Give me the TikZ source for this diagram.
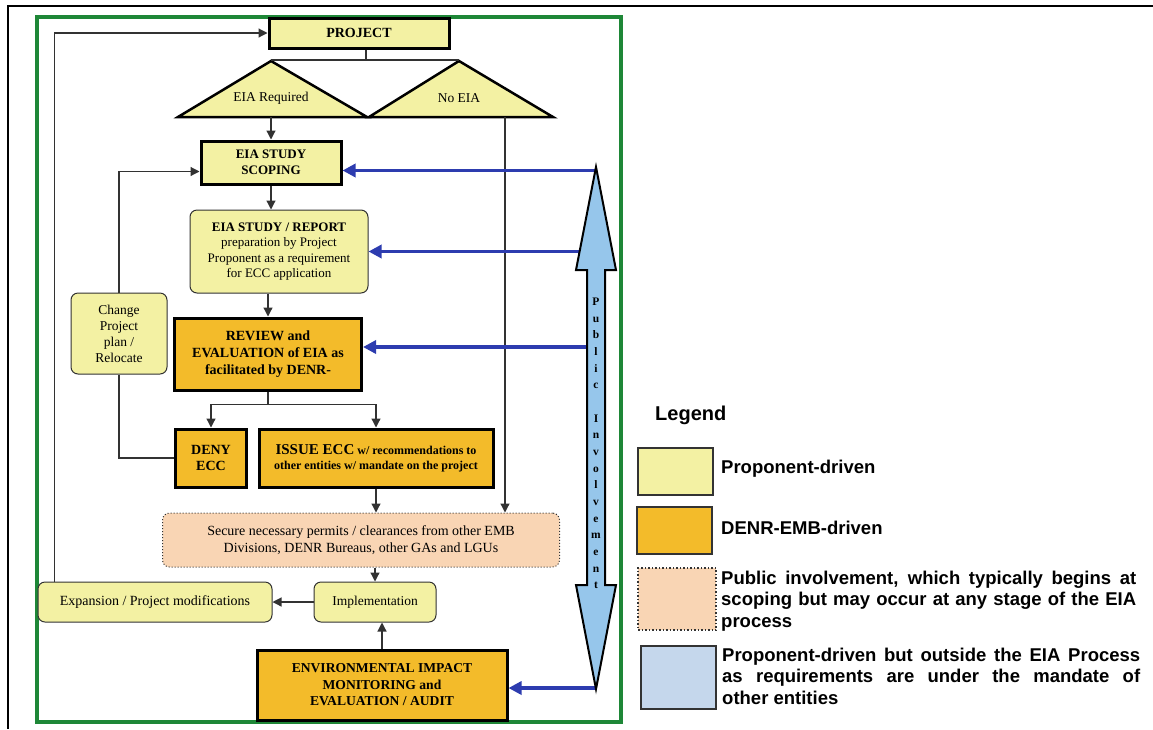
\documentclass[tikz,border=0pt]{standalone}
\usepackage{fontspec}
\setmainfont{Liberation Serif}
\newfontfamily\legendfont{Liberation Sans}
\usetikzlibrary{arrows.meta}
\definecolor{propyellow}{RGB}{243,241,163}
\definecolor{denrorange}{RGB}{243,187,42}
\definecolor{permitpeach}{RGB}{249,213,180}
\definecolor{outsideblue}{RGB}{197,215,236}
\definecolor{pifill}{RGB}{150,198,235}
\definecolor{pubblue}{RGB}{45,60,175}
\definecolor{framegreen}{RGB}{30,135,55}
\definecolor{linegray}{RGB}{50,50,50}
\tikzset{
  propbox/.style={draw=linegray, line width=1, fill=propyellow, rounded corners=7, align=center, inner sep=0},
  thickbox/.style={draw=black, line width=3, fill=propyellow, align=center, inner sep=0},
  denrbox/.style={thickbox, fill=denrorange},
  permitbox/.style={draw=linegray, dotted, line width=1, fill=permitpeach, rounded corners=7, align=center, inner sep=0},
  tri/.style={draw=black, line width=2.5, fill=propyellow},
  arr/.style={draw=linegray, line width=1.2, -{Triangle[length=9,width=9]}},
  pub/.style={draw=pubblue, line width=3.5, -{Triangle[length=13,width=13]}},
  swatch/.style={draw=black!80, line width=1.5, minimum width=75, minimum height=47, inner sep=0},
  legtext/.style={font=\legendfont\bfseries\fontsize{18.5}{21.5}\selectfont, anchor=west, inner sep=0, align=left}
}
\begin{document}
\begin{tikzpicture}[x=1pt,y=-1pt]
\useasboundingbox (0,0) rectangle (1153,729);
% frames
\draw[black, line width=2.5] (1153,6) -- (8,6) -- (8,729);
\draw[framegreen, line width=4] (37,17) rectangle (621,722);

% decision triangles
\draw[tri] (178,117) -- (271,61) -- (367,117) -- cycle;
\draw[tri] (369,117) -- (459,61) -- (553,117) -- cycle;
\coordinate (reqtop) at (271,60);
\coordinate (reqbase) at (271,117);
\coordinate (notop) at (459,60);
\coordinate (nobase) at (505,117);
\coordinate (split) at (366,60);

% flow boxes
\node[thickbox, minimum width=180, minimum height=30, font=\bfseries\fontsize{14}{16}\selectfont] (project) at (359,33) {PROJECT};
\node[font=\fontsize{13.5}{15}\selectfont] (req) at (271,98) {EIA Required};
\node[font=\fontsize{13.5}{15}\selectfont] (noeia) at (459,98) {No EIA};
\node[thickbox, minimum width=140, minimum height=43, font=\bfseries\fontsize{13}{16}\selectfont] (scope) at (271,162.5) {EIA STUDY\\SCOPING};
\node[propbox, minimum width=178, minimum height=83, font=\fontsize{13}{15.3}\selectfont] (study) at (279,251.5) {\textbf{EIA STUDY / REPORT}\\preparation by Project\\Proponent as a requirement\\for ECC application};
\node[denrbox, minimum width=187, minimum height=72, font=\bfseries\fontsize{14}{17}\selectfont] (review) at (268,354) {REVIEW and\\EVALUATION of EIA as\\facilitated by DENR-};
\node[propbox, minimum width=96, minimum height=81, font=\fontsize{13.5}{16}\selectfont] (change) at (119,333.5) {Change\\Project\\plan /\\Relocate};
\node[denrbox, minimum width=71, minimum height=58, font=\bfseries\fontsize{14}{16}\selectfont] (deny) at (211,458) {DENY\\ECC};
\node[denrbox, minimum width=234, minimum height=58, font=\bfseries\fontsize{12}{15}\selectfont] (issue) at (376,458) {{\fontsize{15}{15}\selectfont ISSUE ECC} w/ recommendations to\\other entities w/ mandate on the project};
\node[permitbox, minimum width=397, minimum height=54, font=\fontsize{14}{16.5}\selectfont] (permits) at (361,540) {Secure necessary permits / clearances from other EMB\\Divisions, DENR Bureaus, other GAs and LGUs};
\node[propbox, minimum width=122, minimum height=40, font=\fontsize{13.5}{16}\selectfont] (impl) at (375,602) {Implementation};
\node[propbox, minimum width=234, minimum height=40, font=\fontsize{14}{16}\selectfont] (expand) at (155,602) {Expansion / Project modifications};
\node[denrbox, minimum width=250, minimum height=70, font=\bfseries\fontsize{13.6}{16.5}\selectfont] (monitor) at (382,685) {ENVIRONMENTAL IMPACT\\MONITORING and\\EVALUATION / AUDIT};

% connectors
\draw[linegray, line width=1.2] (split |- project.south) -- (split);
\draw[linegray, line width=1.2] (reqtop) -- (notop);
\draw[arr] (reqbase) -- (scope.north);
\draw[arr] (nobase) -- (nobase |- permits.north);
\draw[arr] (scope.south) -- (scope.south |- study.north);
\draw[arr] (review.north |- study.south) -- (review.north);
\draw[linegray, line width=1.2] (review.south) -- ++(0,13) coordinate (rsplit);
\draw[arr] (rsplit) -| (deny.north);
\draw[arr] (rsplit) -| (issue.north);
\draw[linegray, line width=1.2] (deny.west) -| (change.south);
\draw[arr] (change.north) |- ([yshift=-9pt]scope.west);
\draw[arr] (issue.south) -- (issue.south |- permits.north);
\draw[arr] (impl.north |- permits.south) -- (impl.north);
\draw[arr] (monitor.north) -- (monitor.north |- impl.south);
\draw[arr] (impl.west) -- (expand.east);
\draw[arr] ([xshift=17pt]expand.north west) |- (project.west);

% public involvement
\coordinate (pi) at (596,430);
\draw[pub] (pi |- scope.east) ++(0,8) -- ([yshift=-8pt]scope.east);
\draw[pub] (pi |- study.east) -- (study.east);
\draw[pub] (pi |- review.east) ++(0,-7) -- ([yshift=7pt]review.east);
\draw[pub] (pi |- monitor.east) ++(0,3) -- ([yshift=-3pt]monitor.east);
\draw[black, line width=2, fill=pifill, line join=miter]
  (596,167) -- (616,270) -- (605,270) -- (605,585) -- (616,585) -- (596,689)
  -- (576,585) -- (587,585) -- (587,270) -- (576,270) -- cycle;
\node[font=\bfseries\fontsize{11.5}{16.65}\selectfont, align=center, inner sep=0] (pitext) at (596,443.5)
  {P\\u\\b\\l\\i\\c\\~\\I\\n\\v\\o\\l\\v\\e\\m\\e\\n\\t};

% legend
\node[font=\legendfont\bfseries\fontsize{20}{24}\selectfont, anchor=west, inner sep=0] (legend) at (655,415) {Legend};
\node[swatch, fill=propyellow] (swprop) at (675.5,471.5) {};
\node[legtext] (ltprop) at (721,469) {Proponent-driven};
\node[swatch, fill=denrorange, line width=2] (swdenr) at (674.5,530) {};
\node[legtext] (ltdenr) at (721,528) {DENR-EMB-driven};
\node[swatch, fill=permitpeach, dotted, minimum width=78, minimum height=62] (swpub) at (677,599) {};
\node[legtext] (ltpub) at (721,601) {\makebox[415pt][s]{Public involvement, which typically begins at}\\\makebox[415pt][s]{scoping but may occur at any stage of the EIA}\\process};
\node[swatch, fill=outsideblue, minimum width=75, minimum height=63] (swout) at (678.5,677.5) {};
\node[legtext] (ltout) at (722,676) {\makebox[418pt][s]{Proponent-driven but outside the EIA Process}\\\makebox[418pt][s]{as requirements are under the mandate of}\\other entities};
\end{tikzpicture}
\end{document}
